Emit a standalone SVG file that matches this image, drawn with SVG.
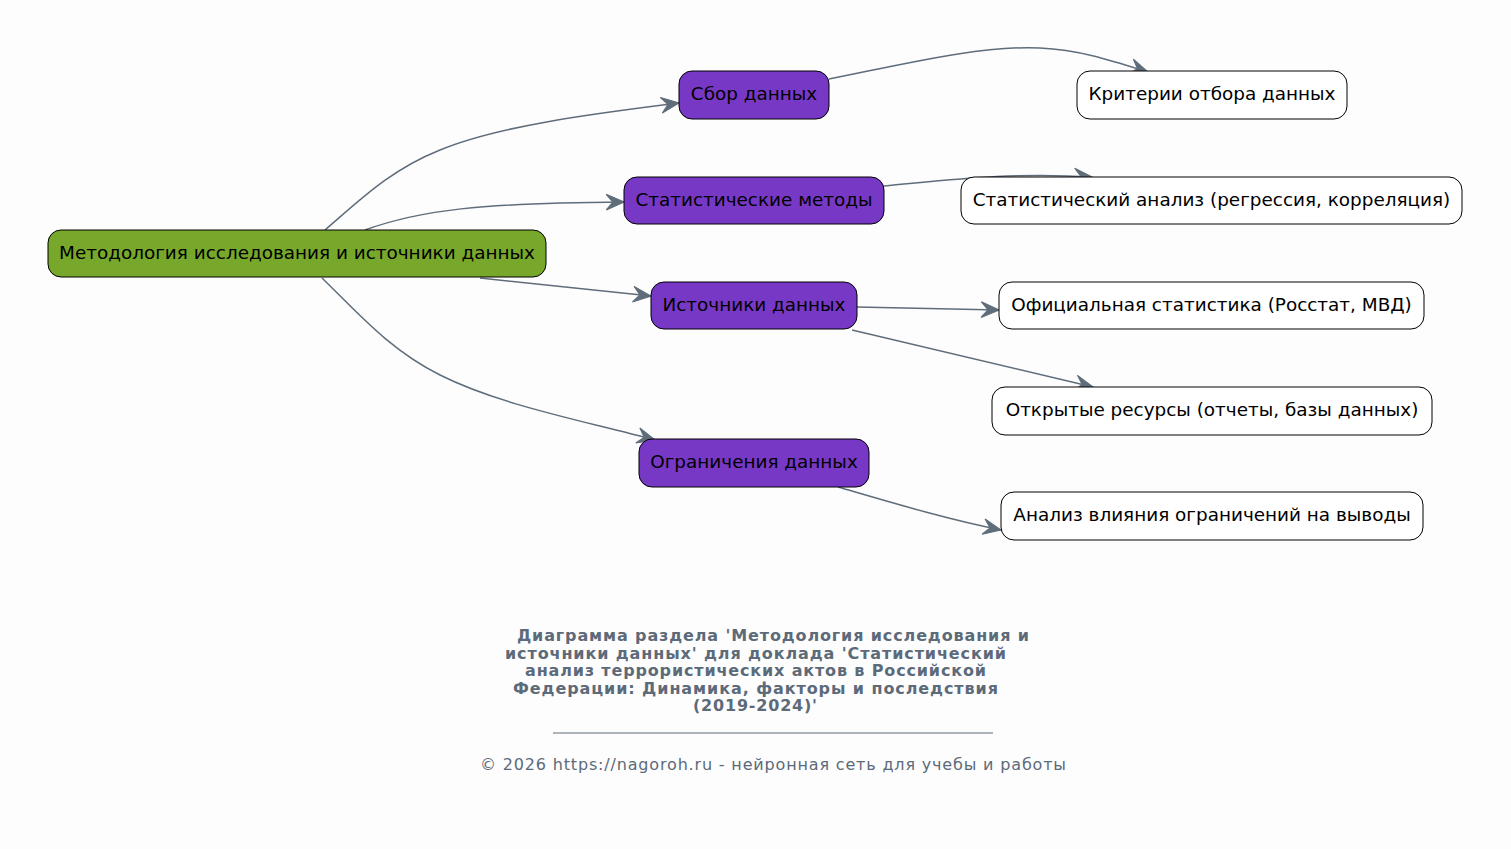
<svg xmlns="http://www.w3.org/2000/svg" width="1511" height="849" viewBox="0 0 1511 849">
<style>
.n rect{stroke:#000;stroke-width:1}
.root rect{fill:#78a82b}
.mid rect{fill:#7838c6}
.leaf rect{fill:#fff}
.n text{font-family:"DejaVu Sans",sans-serif;font-size:18.4px;fill:#000;text-anchor:middle}
.e path{fill:none;stroke:#5f6d7b;stroke-width:1.5}
.t{font-family:"DejaVu Sans",sans-serif;font-size:16px;font-weight:bold;fill:#5c6a79}
.f{font-family:"DejaVu Sans",sans-serif;font-size:16px;fill:#5c6a79}
</style>
<defs>
<marker id="a" markerUnits="userSpaceOnUse" markerWidth="20" markerHeight="18" viewBox="-1 -1 18 16" refX="16" refY="7" orient="auto">
<path d="M0,0 L16,7 L0,14 L6,7 Z" fill="#5f6d7b" stroke="#5f6d7b" stroke-width="1" stroke-linejoin="miter"/>
</marker>
</defs>
<rect width="1511" height="849" fill="#fdfdfd"/>
<g id="edges" class="e">
<path d="M325,230 C360,200 390,170 440,150 C500,125 600,113 679,103" marker-end="url(#a)"/>
<path d="M365,230 C420,210 480,203 624,202" marker-end="url(#a)"/>
<path d="M480,278 L651,296" marker-end="url(#a)"/>
<path d="M322,278 C360,315 390,350 440,375 C500,405 580,420 655,440" marker-end="url(#a)"/>
<path d="M829,79 C900,65 980,45 1040,48 C1080,50 1110,60 1148,72" marker-end="url(#a)"/>
<path d="M884,186 C950,180 1010,172 1092,177" marker-end="url(#a)"/>
<path d="M857,307 L999,310" marker-end="url(#a)"/>
<path d="M852,330 L1093,387" marker-end="url(#a)"/>
<path d="M838,487 C900,505 950,520 1001,530" marker-end="url(#a)"/>
</g>
<g id="root" class="n root"><rect x="48" y="230" width="498" height="47" rx="13"/><text x="297" y="259">Методология исследования и источники данных</text></g>
<g id="sbor" class="n mid"><rect x="679" y="71" width="150" height="48" rx="13"/><text x="754" y="100">Сбор данных</text></g>
<g id="stat" class="n mid"><rect x="624" y="177" width="260" height="47" rx="13"/><text x="754" y="206">Статистические методы</text></g>
<g id="ist" class="n mid"><rect x="651" y="282" width="206" height="47" rx="13"/><text x="754" y="311">Источники данных</text></g>
<g id="ogr" class="n mid"><rect x="639" y="439" width="230" height="48" rx="13"/><text x="754" y="468">Ограничения данных</text></g>
<g id="krit" class="n leaf"><rect x="1077" y="71" width="270" height="48" rx="13"/><text x="1212" y="100">Критерии отбора данных</text></g>
<g id="stan" class="n leaf"><rect x="961" y="177" width="501" height="47" rx="13"/><text x="1211.5" y="206">Статистический анализ (регрессия, корреляция)</text></g>
<g id="ofic" class="n leaf"><rect x="999" y="282" width="425" height="47" rx="13"/><text x="1211.5" y="311">Официальная статистика (Росстат, МВД)</text></g>
<g id="otkr" class="n leaf"><rect x="992" y="387" width="440" height="48" rx="13"/><text x="1212" y="416">Открытые ресурсы (отчеты, базы данных)</text></g>
<g id="anal" class="n leaf"><rect x="1001" y="492" width="422" height="48" rx="13"/><text x="1212" y="521">Анализ влияния ограничений на выводы</text></g>
<g id="title">
<text class="t" x="517" y="641" textLength="512" lengthAdjust="spacing">Диаграмма раздела 'Методология исследования и</text>
<text class="t" x="505" y="658.5" textLength="501" lengthAdjust="spacing">источники данных' для доклада 'Статистический</text>
<text class="t" x="525" y="676" textLength="461" lengthAdjust="spacing">анализ террористических актов в Российской</text>
<text class="t" x="513" y="693.5" textLength="485" lengthAdjust="spacing">Федерации: Динамика, факторы и последствия</text>
<text class="t" x="693" y="711" textLength="124" lengthAdjust="spacing">(2019-2024)'</text>
<line x1="553" y1="733" x2="993" y2="733" stroke="#5c6a79" stroke-width="1"/>
<text class="f" x="480" y="770" textLength="586" lengthAdjust="spacing">© 2026 https://nagoroh.ru - нейронная сеть для учебы и работы</text>
</g>
</svg>
